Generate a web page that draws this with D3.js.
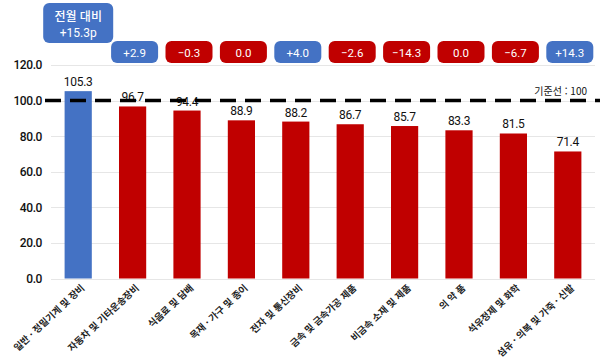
<!DOCTYPE html>
<html lang="ko">
<head>
<meta charset="utf-8">
<script src="https://cdn.jsdelivr.net/npm/d3@7"></script>
<style>
  body { margin: 0; background: #fff; }
  svg text { font-family: Roboto, "Noto Sans CJK KR", sans-serif; }
  .axis path, .axis line { display: none; }
  .grid line { stroke: #e6e6e6; shape-rendering: crispEdges; }
  .grid path { display: none; }
  .kr { font-family: "Noto Sans CJK KR", sans-serif; }
</style>
</head>
<body>
<script>
  // data
  var categories = ["일반 · 정밀기계 및 장비", "자동차 및 기타운송장비", "식음료 및 담배", "목재 · 가구 및 종이",
    "전자 및 통신장비", "금속 및 금속가공 제품", "비금속 소재 및 제품", "의 약 품", "석유정제 및 화학",
    "섬유 · 의복 및 가죽 · 신발"];
  var values = [105.3, 96.7, 94.4, 88.9, 88.2, 86.7, 85.7, 83.3, 81.5, 71.4];
  var changes = ["+15.3p", "+2.9", "−0.3", "0.0", "+4.0", "−2.6", "−14.3", "0.0", "−6.7", "+14.3"];
  var changeUp = [true, true, false, false, true, false, false, false, false, true];
  var yTicks = [0, 20, 40, 60, 80, 100, 120];
  var baseline = 100;

  var w = 600, h = 364;
  var blue = "#4472c4", red = "#c00000";

  var svg = d3.select("body").append("svg")
    .attr("width", w).attr("height", h);

  var x = d3.scaleBand().domain(categories).range([51, 595]).paddingInner(0.5).paddingOuter(0.25);
  var y = d3.scaleLinear().domain([0, 120]).range([278.5, 65]);

  // gridlines
  svg.append("g").attr("class", "grid")
    .attr("transform", "translate(51,0)")
    .call(d3.axisLeft(y).tickValues(yTicks).tickSize(-(595 - 51)).tickFormat(""));

  // y axis labels
  svg.append("g").attr("class", "axis")
    .attr("transform", "translate(51,0)")
    .call(d3.axisLeft(y).tickValues(yTicks).tickSize(0).tickPadding(9).tickFormat(d3.format(".1f")))
    .selectAll("text")
    .attr("font-size", 12).attr("font-weight", 500).attr("fill", "#111")
    .style("font-family", "Roboto, sans-serif").attr("letter-spacing", "-0.4");

  // bars
  svg.selectAll("rect.bar").data(values).enter().append("rect")
    .attr("class", "bar")
    .attr("x", function(d, i) { return x(categories[i]); })
    .attr("width", x.bandwidth())
    .attr("y", function(d) { return y(d); })
    .attr("height", function(d) { return y(0) - y(d); })
    .attr("fill", function(d, i) { return i == 0 ? blue : red; });

  // value labels
  svg.selectAll("text.val").data(values).enter().append("text")
    .attr("class", "val")
    .attr("x", function(d, i) { return x(categories[i]) + x.bandwidth() / 2; })
    .attr("y", function(d) { return y(d) - 5; })
    .attr("text-anchor", "middle")
    .attr("font-size", 12).attr("fill", "#111")
    .attr("letter-spacing", "-0.3")
    .text(function(d) { return d.toFixed(1); });

  // baseline 100 dashed line
  svg.append("line")
    .attr("x1", 45).attr("x2", 600)
    .attr("y1", y(baseline)).attr("y2", y(baseline))
    .attr("stroke", "#000").attr("stroke-width", 3.5)
    .attr("stroke-dasharray", "16,9");

  svg.append("text").attr("class", "kr")
    .attr("x", 587).attr("y", 95)
    .attr("text-anchor", "end").attr("font-size", 10).attr("fill", "#111")
    .text("기준선 : " + baseline);

  // x labels rotated
  svg.append("g").attr("class", "axis")
    .attr("transform", "translate(0," + y(0) + ")")
    .call(d3.axisBottom(x).tickSize(0).tickFormat(function(d) { return d; }))
    .selectAll("text")
    .attr("class", "kr")
    .attr("font-size", 9.5).attr("font-weight", 700).attr("fill", "#222")
    .attr("text-anchor", "end")
    .attr("dx", 0).attr("dy", 0)
    .attr("transform", "translate(5,8) rotate(-43)");

  // change boxes
  var boxes = svg.selectAll("g.box").data(changes).enter().append("g")
    .attr("class", "box")
    .attr("transform", function(d, i) { return "translate(" + (x(categories[i]) + x.bandwidth() / 2 + (i == 0 ? 0 : 2)) + ",0)"; });

  boxes.append("rect")
    .attr("x", function(d, i) { return i == 0 ? -35 : -23.5; })
    .attr("y", function(d, i) { return i == 0 ? 3 : 41; })
    .attr("width", function(d, i) { return i == 0 ? 70 : 47; })
    .attr("height", function(d, i) { return i == 0 ? 40 : 22; })
    .attr("rx", 6)
    .attr("fill", function(d, i) { return changeUp[i] ? blue : red; });

  boxes.each(function(d, i) {
    var g = d3.select(this);
    if (i == 0) {
      g.append("text").attr("class", "kr")
        .attr("y", 21).attr("text-anchor", "middle")
        .attr("font-size", 12).attr("font-weight", 500).attr("fill", "#fff")
        .text("전월 대비");
      g.append("text")
        .attr("y", 37).attr("text-anchor", "middle")
        .attr("font-size", 12).attr("fill", "#fff")
        .text(d);
    } else {
      g.append("text")
        .attr("y", 56.5).attr("text-anchor", "middle")
        .attr("font-size", 11.5).attr("fill", "#fff")
        .text(d);
    }
  });
</script>
</body>
</html>
